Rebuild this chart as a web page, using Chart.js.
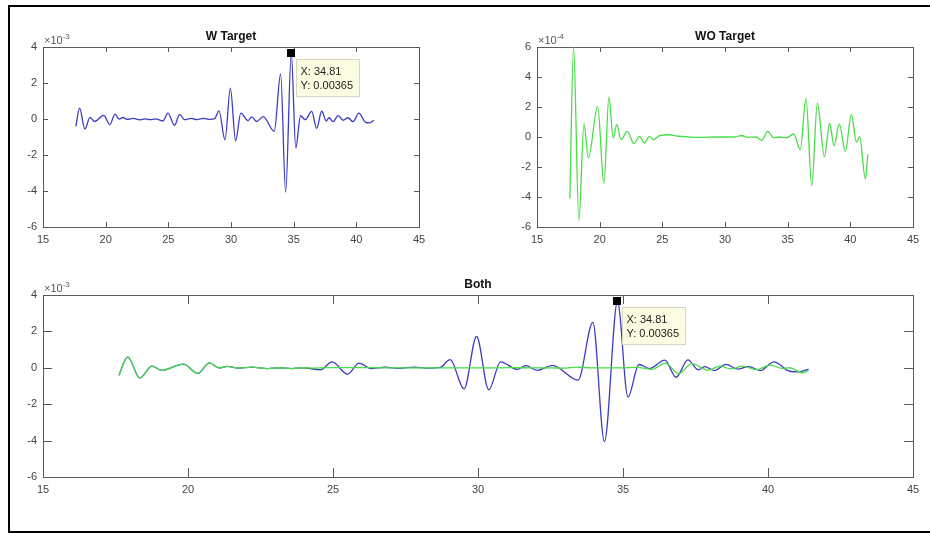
<!DOCTYPE html>
<html>
<head>
<meta charset="utf-8">
<script src="https://cdn.jsdelivr.net/npm/chart.js@4.4.0/dist/chart.umd.min.js"></script>
<style>
  body { margin: 0; background: #fff; overflow: hidden; }
  #frame { position: absolute; left: 8px; top: 5px; width: 940px; height: 528px;
           box-sizing: border-box; border: 2px solid #000; border-right: none; z-index: 5; pointer-events: none; }
  canvas { position: absolute; }
</style>
</head>
<body>
<div id="frame"></div>
<canvas id="wChart" width="465" height="262" style="left:0;top:0"></canvas>
<canvas id="woChart" width="465" height="262" style="left:465px;top:0"></canvas>
<canvas id="bothChart" width="930" height="270" style="left:0;top:262px"></canvas>
<script>
// x axis ticks (shared)
const xTicks = [15, 20, 25, 30, 35, 40, 45];
// y ticks, in the units shown next to each axis (x10^-3 / x10^-4)
const wTicks = [-6, -4, -2, 0, 2, 4];
const woTicks = [-6, -4, -2, 0, 2, 4, 6];

// W Target signal, y in units of 1e-3
const wTargetX = [17.62, 17.92, 18.34, 18.75, 19.1, 19.84, 20.34, 20.74, 21.08, 21.36, 21.71, 22.2, 22.74,
  23.17, 23.57, 23.97, 24.57, 24.97, 25.5, 25.9, 26.3, 26.8, 27.3, 27.8, 28.3, 28.7, 29.04, 29.52, 29.95, 30.37, 30.78,
  31.36, 31.64, 32.04, 32.57, 33.45, 33.96, 34.36, 34.81, 35.17, 35.55, 35.92, 36.44, 36.83, 37.24, 37.6, 37.82,
  38.14, 38.56, 38.94, 39.34, 39.73, 40.21, 40.74, 41.06, 41.4];
const wTargetY = [-0.41, 0.6, -0.556, 0.089, -0.14, 0.204, -0.31, 0.267, -0.007, 0.082, -0.018, 0.038, -0.044,
  0.004, -0.04, 0.004, -0.11, 0.33, -0.35, 0.26, -0.04, 0.03, -0.03, 0.04, -0.02, 0.02, 0.45, -1.16, 1.72, -1.21, 0.33,
  -0.09, 0.12, -0.14, 0.13, -0.68, 2.5, -4.06, 3.65, -1.61, 0.18, -0.04, 0.42, -0.52, 0.43, -0.11, 0.07,
  -0.15, 0.19, -0.07, 0.07, -0.15, 0.33, -0.19, -0.22, -0.07];

// WO Target signal, y in units of 1e-4
const woTargetX = [17.62, 17.92, 18.34, 18.75, 19.1, 19.84, 20.34, 20.74, 21.08, 21.36, 21.71, 22.2, 22.74,
  23.17, 23.57, 23.97, 24.3, 24.8, 25.5, 26.3, 27.2, 28.2, 29.2, 30.2, 30.8, 31.3, 31.8, 32.5, 32.95, 33.4,
  33.88, 34.3, 34.9, 35.48, 36.0, 36.46, 36.92, 37.37, 37.93, 38.35, 38.7, 39.12, 39.6, 40.08, 40.49, 40.74,
  41.2, 41.4];
const woTargetY = [-4.1, 6.0, -5.56, 0.89, -1.4, 2.04, -3.1, 2.67, -0.07, 0.82, -0.18, 0.38, -0.44,
  0.04, -0.4, 0.04, -0.18, 0.1, 0.15, 0.05, 0.0, -0.03, 0.0, 0.0, 0.0, 0.1, -0.02, 0.0, -0.22, 0.38,
  -0.04, 0.0, -0.05, 0.2, -0.84, 2.56, -3.25, 2.28, -1.32, 0.9, -0.58, 0.87, -0.96, 1.5, -0.36, 0.03,
  -2.8, -1.15];

// data tip
const tipX = 34.81;
const tipY = 0.00365;

const wPoints = wTargetX.map((x, i) => ({ x, y: wTargetY[i] * 1e-3 }));
const woPoints = woTargetX.map((x, i) => ({ x, y: woTargetY[i] * 1e-4 }));

const BLUE = "#3c3cc4";
const GREEN = "#47de47";
const FONT = "'Liberation Sans', Arial, Helvetica, sans-serif";

// axes box, inward ticks, title and exponent label, like a matlab axes
const matlabAxes = {
  id: "matlabAxes",
  beforeDatasetsDraw(chart, args, opts) {
    const { ctx, chartArea: a, scales: { x, y } } = chart;
    const len = opts.tickLen;
    ctx.save();
    ctx.strokeStyle = "#5a5a5a";
    ctx.lineWidth = 1;
    ctx.beginPath();
    x.ticks.forEach((t) => {
      const px = Math.round(x.getPixelForValue(t.value)) + 0.5;
      ctx.moveTo(px, a.bottom); ctx.lineTo(px, a.bottom - len);
      ctx.moveTo(px, a.top); ctx.lineTo(px, a.top + len);
    });
    y.ticks.forEach((t) => {
      const py = Math.round(y.getPixelForValue(t.value)) + 0.5;
      ctx.moveTo(a.left, py); ctx.lineTo(a.left + len, py);
      ctx.moveTo(a.right, py); ctx.lineTo(a.right - len, py);
    });
    ctx.stroke();
    ctx.strokeRect(Math.round(a.left) + 0.5, Math.round(a.top) + 0.5, Math.round(a.width), Math.round(a.height));

    ctx.fillStyle = "#111";
    ctx.font = "bold 12px " + FONT;
    ctx.textAlign = "center";
    ctx.textBaseline = "alphabetic";
    ctx.fillText(opts.title, (a.left + a.right) / 2, a.top - 7);

    ctx.fillStyle = "#555";
    ctx.textAlign = "left";
    ctx.font = "11px " + FONT;
    ctx.fillText("\u00d710", a.left + 1, a.top - 3);
    const w = ctx.measureText("\u00d710").width;
    ctx.font = "8px " + FONT;
    ctx.fillText(opts.exp, a.left + 1 + w, a.top - 8);
    ctx.restore();
  },
  afterDatasetsDraw(chart, args, opts) {
    if (!opts.tip) return;
    const { ctx, scales: { x, y } } = chart;
    const px = x.getPixelForValue(opts.tip.x);
    const py = y.getPixelForValue(opts.tip.y);
    ctx.save();
    ctx.fillStyle = "#000";
    ctx.fillRect(Math.round(px) - 4, Math.round(py) - 4, 8, 8);
    const bx = Math.round(px) + 5.5, by = Math.round(py) + 6.5;
    ctx.fillStyle = "#fcfce2";
    ctx.strokeStyle = "#d6d6c4";
    ctx.fillRect(bx, by, 63, 37);
    ctx.strokeRect(bx, by, 63, 37);
    ctx.fillStyle = "#222";
    ctx.font = "11px " + FONT;
    ctx.textAlign = "left";
    ctx.textBaseline = "middle";
    ctx.fillText("X: " + opts.tip.x.toFixed(2), bx + 4, by + 12);
    ctx.fillText("Y: " + opts.tip.y.toFixed(5), bx + 4, by + 26);
    ctx.restore();
  },
};

function makeChart(id, datasets, o) {
  return new Chart(document.getElementById(id), {
    type: "line",
    data: { datasets },
    options: {
      responsive: false,
      animation: false,
      events: [],
      layout: { padding: o.padding },
      elements: { point: { radius: 0 }, line: { borderWidth: 1.3, cubicInterpolationMode: "monotone" } },
      plugins: {
        legend: { display: false },
        tooltip: { enabled: false },
        matlabAxes: { title: o.title, exp: o.exp, tickLen: o.tickLen, tip: o.tip },
      },
      scales: {
        x: {
          type: "linear",
          min: 15,
          max: 45,
          grid: { display: false, drawTicks: false },
          border: { display: false },
          afterBuildTicks: (s) => { s.ticks = xTicks.map((v) => ({ value: v })); },
          afterFit: (s) => { s.height = o.xHeight; },
          ticks: { padding: o.xPad, color: "#444", font: { family: FONT, size: 11 }, maxRotation: 0, autoSkip: false },
        },
        y: {
          min: o.yTicks[0] * o.unit,
          max: o.yTicks[o.yTicks.length - 1] * o.unit,
          grid: { display: false, drawTicks: false },
          border: { display: false },
          afterBuildTicks: (s) => { s.ticks = o.yTicks.map((v) => ({ value: v * o.unit })); },
          afterFit: (s) => { s.width = o.yWidth; },
          ticks: {
            padding: 6,
            color: "#444",
            font: { family: FONT, size: 11 },
            autoSkip: false,
            callback: (v) => String(Math.round(v / o.unit)),
          },
        },
      },
    },
    plugins: [matlabAxes],
  });
}

makeChart("wChart",
  [{ data: wPoints, borderColor: BLUE }],
  { padding: { top: 47, right: 46, left: 0, bottom: 0 }, title: "W Target", exp: "-3", tickLen: 5,
    xHeight: 35, yWidth: 43, xPad: 6, yTicks: wTicks, unit: 1e-3, tip: { x: tipX, y: tipY } });

makeChart("woChart",
  [{ data: woPoints, borderColor: GREEN }],
  { padding: { top: 47, right: 17, left: 0, bottom: 0 }, title: "WO Target", exp: "-4", tickLen: 5,
    xHeight: 35, yWidth: 72, xPad: 6, yTicks: woTicks, unit: 1e-4 });

makeChart("bothChart",
  [
    { data: woPoints, borderColor: GREEN, order: 0 },
    { data: wPoints, borderColor: BLUE, order: 1 },
  ],
  { padding: { top: 33, right: 17, left: 0, bottom: 0 }, title: "Both", exp: "-3", tickLen: 9,
    xHeight: 55, yWidth: 43, xPad: 6, yTicks: wTicks, unit: 1e-3, tip: { x: tipX, y: tipY } });
</script>
</body>
</html>
